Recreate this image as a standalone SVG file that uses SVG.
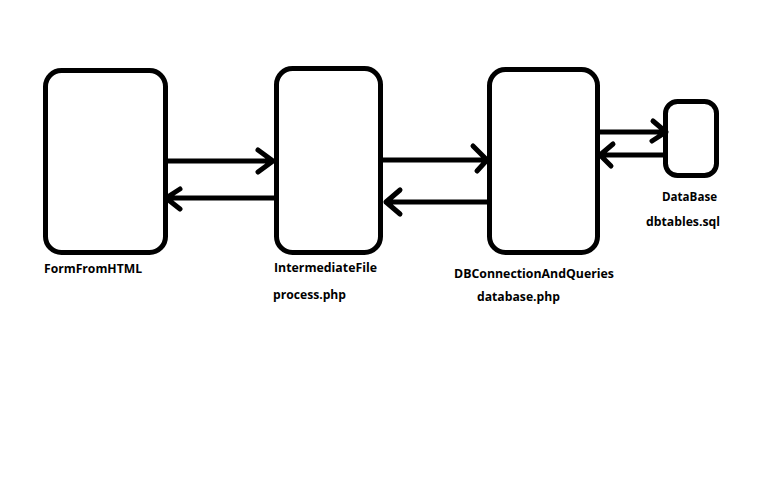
<svg xmlns="http://www.w3.org/2000/svg" width="766" height="499" viewBox="0 0 766 499">
<style>
.box{fill:none;stroke:#000;stroke-width:5}
.ln{fill:none;stroke:#000;stroke-width:5;stroke-linecap:round;stroke-linejoin:round}
text{font-family:"Open Sans","Liberation Sans",sans-serif;font-weight:bold;font-size:13px;fill:#000}
</style>
<rect width="766" height="499" fill="#fff"/>
<g id="node-form">
<rect class="box" x="45.5" y="70.5" width="120" height="182" rx="16"/>
<text x="44" y="273" textLength="98" lengthAdjust="spacingAndGlyphs">FormFromHTML</text>
</g>
<g id="node-intermediate">
<rect class="box" x="276.5" y="68.5" width="104" height="184" rx="16"/>
<text x="274" y="272" textLength="103" lengthAdjust="spacingAndGlyphs">IntermediateFile</text>
<text x="273" y="299" textLength="73" lengthAdjust="spacingAndGlyphs">process.php</text>
</g>
<g id="node-dbconn">
<rect class="box" x="489.5" y="69.5" width="108" height="183" rx="16"/>
<text x="454" y="278" textLength="160" lengthAdjust="spacingAndGlyphs">DBConnectionAndQueries</text>
<text x="477" y="301" textLength="83" lengthAdjust="spacingAndGlyphs">database.php</text>
</g>
<g id="node-database">
<rect class="box" x="665.5" y="101.5" width="51" height="74" rx="12"/>
<text x="662" y="201" textLength="55" lengthAdjust="spacingAndGlyphs">DataBase</text>
<text x="646" y="226" textLength="74" lengthAdjust="spacingAndGlyphs">dbtables.sql</text>
</g>
<g id="connectors">
<path class="ln" d="M168 161H273M258 150L273 161L258 172"/>
<path class="ln" d="M275 198H166M180 189L166 198L180 209"/>
<path class="ln" d="M383 160H487M473 146L487 160L477 171"/>
<path class="ln" d="M488 202H386M400 190L386 202L400 214"/>
<path class="ln" d="M600 132H666M653 121L666 132L652 141"/>
<path class="ln" d="M664 155H600M613 144L600 155L611 166"/>
</g>
</svg>
